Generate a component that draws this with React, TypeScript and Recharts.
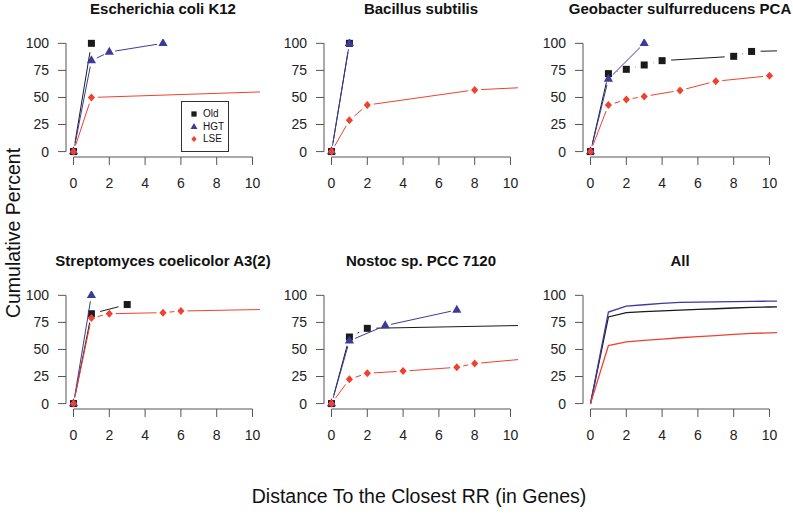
import { LineChart, Line, XAxis, YAxis, ReferenceLine, Legend } from 'recharts'

type Pt = [number, number]

// cumulative percent by distance (genes); last point of some series sits past the axis edge
const ecoliOld: Pt[] = [[0, 0], [1, 100]]
const ecoliHgt: Pt[] = [[0, 0], [1, 84], [2, 92], [5, 100]]
const ecoliLse: Pt[] = [[0, 0], [1, 50], [13, 56.5]]

const bsubOld: Pt[] = [[0, 0], [1, 100]]
const bsubHgt: Pt[] = [[0, 0], [1, 100]]
const bsubLse: Pt[] = [[0, 0], [1, 29], [2, 43], [8, 57], [13, 61]]

const geoOld: Pt[] = [[0, 0], [1, 72], [2, 76], [3, 80], [4, 84], [8, 88], [9, 92.5], [13, 94]]
const geoHgt: Pt[] = [[0, 0], [1, 67], [3, 100]]
const geoLse: Pt[] = [[0, 0], [1, 43], [2, 48], [3, 51], [5, 56.5], [7, 65], [10, 70]]

const strepOld: Pt[] = [[0, 0], [1, 83], [3, 91.5]]
const strepHgt: Pt[] = [[0, 0], [1, 100]]
const strepLse: Pt[] = [[0, 0], [1, 79], [2, 83], [5, 84], [6, 85.5], [14, 88]]

const nostOld: Pt[] = [[0, 0], [1, 61.5], [2, 69.5], [15, 73.5]]
const nostHgt: Pt[] = [[0, 0], [1, 58], [3, 72], [7, 86.5]]
const nostLse: Pt[] = [[0, 0], [1, 22.5], [2, 28], [4, 30], [7, 33.5], [8, 37], [12, 43]]

const allOld: Pt[] = [[0, 0], [1, 80], [2, 84], [3, 85], [4, 85.7], [5, 86.3], [6, 87], [7, 87.6], [8, 88.3], [9, 88.8], [10, 89.2], [11, 89.5]]
const allHgt: Pt[] = [[0, 0], [1, 84.5], [2, 90], [3, 91.3], [4, 92.5], [5, 93.5], [6, 93.8], [7, 94], [8, 94.2], [9, 94.4], [10, 94.6], [11, 94.7]]
const allLse: Pt[] = [[0, 0], [1, 53.5], [2, 57], [3, 58.3], [4, 59.5], [5, 60.8], [6, 61.8], [7, 62.8], [8, 64], [9, 64.8], [10, 65.4], [11, 65.8]]

const xTicks = [0, 2, 4, 6, 8, 10]
const yTicks = [0, 25, 50, 75, 100]

const BLACK = '#1a1a1a'
const BLUE = '#3b3b9b'
const RED = '#f2402f'
const AXIS = '#555'
const FONT = '"Liberation Sans", Arial, Helvetica, sans-serif'

type Shape = 'square' | 'triangle' | 'diamond'

const SERIES: { name: string; color: string; shape: Shape; gap: number }[] = [
  { name: 'Old', color: BLACK, shape: 'square', gap: 9 },
  { name: 'HGT', color: BLUE, shape: 'triangle', gap: 6 },
  { name: 'LSE', color: RED, shape: 'diamond', gap: 6.5 },
]

const toRows = (pts: Pt[]) => pts.map(([x, y]) => ({ x, y }))

const marker = (shape: Shape, cx: number, cy: number, color: string, s = 1) => {
  if (shape === 'square')
    return <rect x={cx - 3.5 * s} y={cy - 3.5 * s} width={7 * s} height={7 * s} fill={color} />
  if (shape === 'triangle')
    return (
      <polygon
        points={`${cx},${cy - 5.3 * s} ${cx - 4.6 * s},${cy + 2.7 * s} ${cx + 4.6 * s},${cy + 2.7 * s}`}
        fill={color}
      />
    )
  return (
    <polygon
      points={`${cx},${cy - 4 * s} ${cx + 3.6 * s},${cy} ${cx},${cy + 4 * s} ${cx - 3.6 * s},${cy}`}
      fill={color}
    />
  )
}

// R type="b": line pieces stop short of each point
const gappedDot = (shape: Shape, color: string, gap: number) => (props: any) => {
  const { cx, cy, index, points } = props
  if (cx == null || cy == null) return <g key={`d-${index}`} />
  const next = points ? points[index + 1] : null
  let seg = null
  if (next && next.x != null) {
    const dx = next.x - cx
    const dy = next.y - cy
    const len = Math.hypot(dx, dy)
    if (len > 2 * gap) {
      const ux = dx / len
      const uy = dy / len
      seg = (
        <line
          x1={cx + ux * gap}
          y1={cy + uy * gap}
          x2={next.x - ux * gap}
          y2={next.y - uy * gap}
          stroke={color}
          strokeWidth={1}
        />
      )
    }
  }
  return (
    <g key={`d-${index}`}>
      {seg}
      {marker(shape, cx, cy, color)}
    </g>
  )
}

const LegendBox = ({ payload }: any) => {
  const names = (payload || []).map((e: any) => e.value)
  return (
    <div
      style={{
        width: 48,
        height: 51,
        border: '1px solid #333',
        background: '#fff',
        fontFamily: FONT,
        fontSize: 10,
        color: '#111',
        paddingTop: 6,
        boxSizing: 'border-box',
      }}
    >
      {SERIES.filter((s) => names.includes(s.name)).map((s) => (
        <div key={s.name} style={{ height: 12.5, lineHeight: '12.5px', display: 'flex', alignItems: 'center' }}>
          <svg width={21} height={12} style={{ display: 'block' }}>
            {marker(s.shape, 12, 6, s.color, 0.75)}
          </svg>
          <span>{s.name}</span>
        </div>
      ))}
    </div>
  )
}

const PLOT_W = 194
const PLOT_H = 118
const Y_AXIS_W = 55
const X_AXIS_H = 45
const M_TOP = 39
const M_RIGHT = 8
const CHART_W = Y_AXIS_W + PLOT_W + M_RIGHT
const CHART_H = M_TOP + PLOT_H + X_AXIS_H
const X_DOMAIN: [number, number] = [-0.42, 10.42]
const Y_DOMAIN: [number, number] = [-5, 104]

const colLeft = [11, 269, 528]
const rowTop = [0, 252]

interface PanelProps {
  title: string
  col: number
  row: number
  data: Pt[][]
  markers?: boolean
  legend?: boolean
}

const Panel = ({ title, col, row, data, markers = true, legend = false }: PanelProps) => {
  const left = colLeft[col]
  const top = rowTop[row]
  return (
    <>
      <div
        style={{
          position: 'absolute',
          left: left + Y_AXIS_W + PLOT_W / 2 - 160,
          top: top,
          width: 320,
          textAlign: 'center',
          fontFamily: FONT,
          fontWeight: 'bold',
          fontSize: 15,
          lineHeight: '17px',
          whiteSpace: 'nowrap',
          color: '#111',
        }}
      >
        {title}
      </div>
      <div style={{ position: 'absolute', left, top }}>
        <LineChart width={CHART_W} height={CHART_H} margin={{ top: M_TOP, right: M_RIGHT, bottom: 0, left: 0 }}>
          <XAxis
            type="number"
            dataKey="x"
            domain={X_DOMAIN}
            allowDataOverflow
            ticks={xTicks}
            interval={0}
            height={X_AXIS_H}
            axisLine={false}
            tickLine={{ stroke: AXIS }}
            tickSize={8}
            tickMargin={13}
            tick={{ fill: '#222', fontSize: 14, fontFamily: FONT }}
          />
          <YAxis
            type="number"
            domain={Y_DOMAIN}
            allowDataOverflow
            ticks={yTicks}
            interval={0}
            width={Y_AXIS_W}
            axisLine={false}
            tickLine={{ stroke: AXIS }}
            tickSize={8}
            tickMargin={9}
            tick={{ fill: '#222', fontSize: 14, fontFamily: FONT }}
          />
          <ReferenceLine segment={[{ x: 0, y: Y_DOMAIN[0] }, { x: 10, y: Y_DOMAIN[0] }]} stroke={AXIS} ifOverflow="visible" />
          <ReferenceLine segment={[{ x: X_DOMAIN[0], y: 0 }, { x: X_DOMAIN[0], y: 100 }]} stroke={AXIS} ifOverflow="visible" />
          {SERIES.map((s, i) =>
            markers ? (
              <Line
                key={s.name}
                name={s.name}
                data={toRows(data[i])}
                dataKey="y"
                type="linear"
                stroke={s.color}
                strokeOpacity={0}
                dot={gappedDot(s.shape, s.color, s.gap)}
                activeDot={false}
                isAnimationActive={false}
              />
            ) : (
              <Line
                key={s.name}
                name={s.name}
                data={toRows(data[i])}
                dataKey="y"
                type="linear"
                stroke={s.color}
                strokeWidth={1.3}
                dot={false}
                activeDot={false}
                isAnimationActive={false}
              />
            )
          )}
          {legend && (
            <Legend
              layout="vertical"
              align="center"
              verticalAlign="middle"
              wrapperStyle={{ left: 170, top: 101, width: 48, height: 51 }}
              content={(p: any) => <LegendBox payload={p.payload} />}
            />
          )}
        </LineChart>
      </div>
    </>
  )
}

export default function App() {
  return (
    <div style={{ position: 'absolute', left: 0, top: 0, width: 793, height: 522, background: '#fff', overflow: 'hidden' }}>
      <Panel title="Escherichia coli K12" col={0} row={0} data={[ecoliOld, ecoliHgt, ecoliLse]} legend />
      <Panel title="Bacillus subtilis" col={1} row={0} data={[bsubOld, bsubHgt, bsubLse]} />
      <Panel title="Geobacter sulfurreducens PCA" col={2} row={0} data={[geoOld, geoHgt, geoLse]} />
      <Panel title="Streptomyces coelicolor A3(2)" col={0} row={1} data={[strepOld, strepHgt, strepLse]} />
      <Panel title="Nostoc sp. PCC 7120" col={1} row={1} data={[nostOld, nostHgt, nostLse]} />
      <Panel title="All" col={2} row={1} data={[allOld, allHgt, allLse]} markers={false} />
      <div
        style={{
          position: 'absolute',
          left: 13 - 150,
          top: 233 - 12,
          width: 300,
          height: 24,
          lineHeight: '24px',
          textAlign: 'center',
          transform: 'rotate(-90deg)',
          fontFamily: FONT,
          fontSize: 19.5,
          color: '#111',
          whiteSpace: 'nowrap',
        }}
      >
        Cumulative Percent
      </div>
      <div
        style={{
          position: 'absolute',
          left: 419 - 250,
          top: 496 - 12,
          width: 500,
          lineHeight: '24px',
          textAlign: 'center',
          fontFamily: FONT,
          fontSize: 19.5,
          color: '#111',
          whiteSpace: 'nowrap',
        }}
      >
        Distance To the Closest RR (in Genes)
      </div>
    </div>
  )
}
